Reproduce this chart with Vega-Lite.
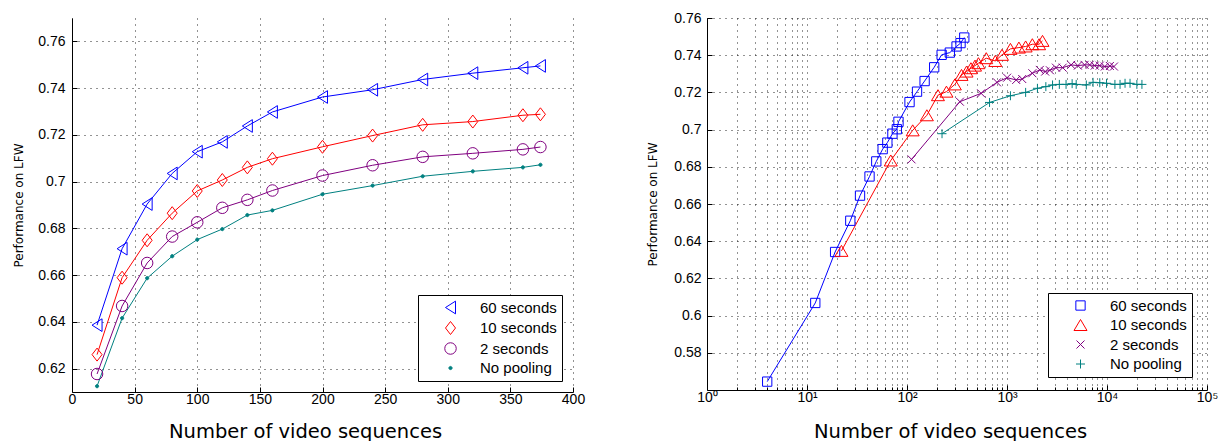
{
  "$schema": "https://vega.github.io/schema/vega-lite/v6.json",
  "padding": {"left": 12, "top": 11, "right": 0, "bottom": 0},
  "background": "white",
  "config": {
    "view": {"stroke": null},
    "axis": {
      "domainColor": "black", "domainWidth": 1, "tickColor": "black", "tickWidth": 1,
      "labelFont": "Liberation Sans", "labelFontSize": 14, "labelColor": "black",
      "titleFont": "DejaVu Sans", "titleFontWeight": "normal", "titleColor": "black",
      "gridColor": "#111111", "gridDash": [1, 5], "gridOpacity": 0.9, "gridWidth": 1,
      "labelOverlap": false, "labelFlush": false
    },
    "legend": {
      "orient": "none", "strokeColor": "black", "fillColor": "white", "padding": 5,
      "labelFont": "Liberation Sans", "labelFontSize": 15, "labelColor": "black",
      "rowPadding": 3.5, "symbolStrokeWidth": 1, "symbolSize": 100, "labelOffset": 22, "symbolOffset": 20, "title": null
    }
  },
  "datasets": {
    "left": [
      {"series": "60 seconds", "n": 20, "perf": 0.6386}, {"series": "60 seconds", "n": 40, "perf": 0.6713},
      {"series": "60 seconds", "n": 60, "perf": 0.6904}, {"series": "60 seconds", "n": 80, "perf": 0.7035},
      {"series": "60 seconds", "n": 100, "perf": 0.7128}, {"series": "60 seconds", "n": 120, "perf": 0.717},
      {"series": "60 seconds", "n": 140, "perf": 0.7238}, {"series": "60 seconds", "n": 160, "perf": 0.7298},
      {"series": "60 seconds", "n": 200, "perf": 0.7362}, {"series": "60 seconds", "n": 240, "perf": 0.7393},
      {"series": "60 seconds", "n": 280, "perf": 0.7437}, {"series": "60 seconds", "n": 320, "perf": 0.7464},
      {"series": "60 seconds", "n": 360, "perf": 0.7487}, {"series": "60 seconds", "n": 374, "perf": 0.7495},
      {"series": "10 seconds", "n": 20, "perf": 0.626}, {"series": "10 seconds", "n": 40, "perf": 0.6589},
      {"series": "10 seconds", "n": 60, "perf": 0.6749}, {"series": "10 seconds", "n": 80, "perf": 0.6865},
      {"series": "10 seconds", "n": 100, "perf": 0.696}, {"series": "10 seconds", "n": 120, "perf": 0.7007},
      {"series": "10 seconds", "n": 140, "perf": 0.7061}, {"series": "10 seconds", "n": 160, "perf": 0.7098},
      {"series": "10 seconds", "n": 200, "perf": 0.7149}, {"series": "10 seconds", "n": 240, "perf": 0.7197},
      {"series": "10 seconds", "n": 280, "perf": 0.7243}, {"series": "10 seconds", "n": 320, "perf": 0.7257},
      {"series": "10 seconds", "n": 360, "perf": 0.7284}, {"series": "10 seconds", "n": 374, "perf": 0.7288},
      {"series": "2 seconds", "n": 20, "perf": 0.6177}, {"series": "2 seconds", "n": 40, "perf": 0.6468},
      {"series": "2 seconds", "n": 60, "perf": 0.6652}, {"series": "2 seconds", "n": 80, "perf": 0.6765},
      {"series": "2 seconds", "n": 100, "perf": 0.6826}, {"series": "2 seconds", "n": 120, "perf": 0.6888},
      {"series": "2 seconds", "n": 140, "perf": 0.6922}, {"series": "2 seconds", "n": 160, "perf": 0.6962},
      {"series": "2 seconds", "n": 200, "perf": 0.7026}, {"series": "2 seconds", "n": 240, "perf": 0.707},
      {"series": "2 seconds", "n": 280, "perf": 0.7106}, {"series": "2 seconds", "n": 320, "perf": 0.7121},
      {"series": "2 seconds", "n": 360, "perf": 0.7138}, {"series": "2 seconds", "n": 374, "perf": 0.7148},
      {"series": "No pooling", "n": 20, "perf": 0.6125}, {"series": "No pooling", "n": 40, "perf": 0.6416},
      {"series": "No pooling", "n": 60, "perf": 0.6587}, {"series": "No pooling", "n": 80, "perf": 0.6681},
      {"series": "No pooling", "n": 100, "perf": 0.6752}, {"series": "No pooling", "n": 120, "perf": 0.6797},
      {"series": "No pooling", "n": 140, "perf": 0.6857}, {"series": "No pooling", "n": 160, "perf": 0.6877},
      {"series": "No pooling", "n": 200, "perf": 0.6946}, {"series": "No pooling", "n": 240, "perf": 0.6983},
      {"series": "No pooling", "n": 280, "perf": 0.7023}, {"series": "No pooling", "n": 320, "perf": 0.7044},
      {"series": "No pooling", "n": 360, "perf": 0.7061}, {"series": "No pooling", "n": 374, "perf": 0.7072}
    ],
    "right": [
      {"series": "60 seconds", "n": 4, "perf": 0.5645}, {"series": "60 seconds", "n": 12.1, "perf": 0.6068},
      {"series": "60 seconds", "n": 19.1, "perf": 0.6342}, {"series": "60 seconds", "n": 27.1, "perf": 0.651},
      {"series": "60 seconds", "n": 33.9, "perf": 0.6645}, {"series": "60 seconds", "n": 42.2, "perf": 0.6748},
      {"series": "60 seconds", "n": 49.3, "perf": 0.6829}, {"series": "60 seconds", "n": 57.1, "perf": 0.6895},
      {"series": "60 seconds", "n": 63.6, "perf": 0.693}, {"series": "60 seconds", "n": 71.5, "perf": 0.6978},
      {"series": "60 seconds", "n": 79.1, "perf": 0.7002}, {"series": "60 seconds", "n": 82.2, "perf": 0.7042},
      {"series": "60 seconds", "n": 106, "perf": 0.7148}, {"series": "60 seconds", "n": 126, "perf": 0.7204},
      {"series": "60 seconds", "n": 150, "perf": 0.7261}, {"series": "60 seconds", "n": 187, "perf": 0.7335},
      {"series": "60 seconds", "n": 222, "perf": 0.7402}, {"series": "60 seconds", "n": 268, "perf": 0.7414},
      {"series": "60 seconds", "n": 313, "perf": 0.7447}, {"series": "60 seconds", "n": 343, "perf": 0.7465},
      {"series": "60 seconds", "n": 374, "perf": 0.7495},
      {"series": "10 seconds", "n": 22.1, "perf": 0.6348}, {"series": "10 seconds", "n": 68.8, "perf": 0.6834},
      {"series": "10 seconds", "n": 114, "perf": 0.6996}, {"series": "10 seconds", "n": 158, "perf": 0.7077},
      {"series": "10 seconds", "n": 204, "perf": 0.7185}, {"series": "10 seconds", "n": 248, "perf": 0.7204},
      {"series": "10 seconds", "n": 301, "perf": 0.7243}, {"series": "10 seconds", "n": 351, "perf": 0.7294},
      {"series": "10 seconds", "n": 394, "perf": 0.7312}, {"series": "10 seconds", "n": 436, "perf": 0.733},
      {"series": "10 seconds", "n": 479, "perf": 0.7344}, {"series": "10 seconds", "n": 518, "perf": 0.7357},
      {"series": "10 seconds", "n": 620, "perf": 0.7384}, {"series": "10 seconds", "n": 764, "perf": 0.7369},
      {"series": "10 seconds", "n": 891, "perf": 0.7402}, {"series": "10 seconds", "n": 1082, "perf": 0.7434},
      {"series": "10 seconds", "n": 1315, "perf": 0.7441}, {"series": "10 seconds", "n": 1536, "perf": 0.7447},
      {"series": "10 seconds", "n": 1793, "perf": 0.7459}, {"series": "10 seconds", "n": 2094, "perf": 0.7459},
      {"series": "10 seconds", "n": 2265, "perf": 0.7477},
      {"series": "2 seconds", "n": 111, "perf": 0.684}, {"series": "2 seconds", "n": 338, "perf": 0.715},
      {"series": "2 seconds", "n": 551, "perf": 0.7195}, {"series": "2 seconds", "n": 794, "perf": 0.7254},
      {"series": "2 seconds", "n": 1002, "perf": 0.7279}, {"series": "2 seconds", "n": 1236, "perf": 0.7267},
      {"series": "2 seconds", "n": 1420, "perf": 0.7272}, {"series": "2 seconds", "n": 1793, "perf": 0.7303},
      {"series": "2 seconds", "n": 2128, "perf": 0.7321}, {"series": "2 seconds", "n": 2409, "perf": 0.7312},
      {"series": "2 seconds", "n": 2686, "perf": 0.7319}, {"series": "2 seconds", "n": 3088, "perf": 0.7333},
      {"series": "2 seconds", "n": 3606, "perf": 0.7333}, {"series": "2 seconds", "n": 4377, "perf": 0.7348},
      {"series": "2 seconds", "n": 5113, "perf": 0.7344}, {"series": "2 seconds", "n": 5969, "perf": 0.7348},
      {"series": "2 seconds", "n": 6711, "perf": 0.7348}, {"series": "2 seconds", "n": 7541, "perf": 0.7344},
      {"series": "2 seconds", "n": 8467, "perf": 0.7344}, {"series": "2 seconds", "n": 9508, "perf": 0.7339},
      {"series": "2 seconds", "n": 10690, "perf": 0.7342}, {"series": "2 seconds", "n": 11740, "perf": 0.7339},
      {"series": "No pooling", "n": 224, "perf": 0.6978}, {"series": "No pooling", "n": 669, "perf": 0.7146},
      {"series": "No pooling", "n": 1082, "perf": 0.7182}, {"series": "No pooling", "n": 1536, "perf": 0.72},
      {"series": "No pooling", "n": 2015, "perf": 0.7222}, {"series": "No pooling", "n": 2446, "perf": 0.7231},
      {"series": "No pooling", "n": 2855, "perf": 0.724}, {"series": "No pooling", "n": 3337, "perf": 0.7243},
      {"series": "No pooling", "n": 3895, "perf": 0.7243}, {"series": "No pooling", "n": 4481, "perf": 0.7247},
      {"series": "No pooling", "n": 4919, "perf": 0.7243}, {"series": "No pooling", "n": 6209, "perf": 0.724},
      {"series": "No pooling", "n": 7250, "perf": 0.7254}, {"series": "No pooling", "n": 8467, "perf": 0.7252},
      {"series": "No pooling", "n": 9892, "perf": 0.7249}, {"series": "No pooling", "n": 12000, "perf": 0.7243},
      {"series": "No pooling", "n": 13500, "perf": 0.7243}, {"series": "No pooling", "n": 15150, "perf": 0.7249},
      {"series": "No pooling", "n": 17000, "perf": 0.7249}, {"series": "No pooling", "n": 19890, "perf": 0.7243},
      {"series": "No pooling", "n": 22350, "perf": 0.7243}
    ]
  },
  "spacing": 134,
  "bounds": "flush",
  "resolve": {
    "scale": {"color": "independent", "shape": "independent", "fill": "independent", "stroke": "independent", "x": "independent", "y": "independent"},
    "legend": {"color": "independent", "shape": "independent", "fill": "independent", "stroke": "independent"}
  },
  "hconcat": [
    {
      "width": 501, "height": 374,
      "data": {"name": "left"},
      "encoding": {
        "x": {"field": "n", "type": "quantitative",
          "scale": {"domain": [0, 400], "nice": false, "zero": false},
          "axis": {"values": [0, 50, 100, 150, 200, 250, 300, 350, 400], "grid": true, "tickSize": -5, "labelPadding": 5,
            "title": "Number of video sequences", "titleFontSize": 19.5, "titlePadding": 16, "titleX": 233}},
        "y": {"field": "perf", "type": "quantitative",
          "scale": {"domain": [0.61, 0.77], "nice": false, "zero": false},
          "axis": {"values": [0.62, 0.64, 0.66, 0.68, 0.7, 0.72, 0.74, 0.76], "format": ".2~f", "grid": true, "tickSize": -5, "labelPadding": 12,
            "title": "Performance on LFW", "titleFontSize": 12, "titlePadding": 12}}
      },
      "layer": [
        {"mark": {"type": "line", "strokeWidth": 1},
          "encoding": {"stroke": {"field": "series", "type": "nominal",
            "scale": {"domain": ["No pooling", "2 seconds", "10 seconds", "60 seconds"], "range": ["#008080", "#800080", "#ff0000", "#0000ff"]},
            "legend": null}}},
        {"mark": {"type": "point", "filled": false, "strokeWidth": 1, "opacity": 1, "size": 100},
          "encoding": {
            "color": {"field": "series", "type": "nominal",
              "scale": {"domain": ["60 seconds", "10 seconds", "2 seconds", "No pooling"], "range": ["#0000ff", "#ff0000", "#800080", "#008080"]},
              "legend": {"legendX": 346, "legendY": 277}},
            "shape": {"field": "series", "type": "nominal",
              "scale": {"domain": ["60 seconds", "10 seconds", "2 seconds", "No pooling"],
                "range": ["M1,-1.27L-1,0L1,1.27Z", "M0,-1.3L1,0L0,1.3L-1,0Z", "M1.15,0A1.15,1.15,0,1,1,-1.15,0A1.15,1.15,0,1,1,1.15,0Z", "M0.32,0A0.32,0.32,0,1,1,-0.32,0A0.32,0.32,0,1,1,0.32,0Z"]},
              "legend": {"legendX": 346, "legendY": 277}},
            "fill": {"field": "series", "type": "nominal",
              "scale": {"domain": ["60 seconds", "10 seconds", "2 seconds", "No pooling"], "range": ["transparent", "transparent", "transparent", "#008080"]},
              "legend": {"legendX": 346, "legendY": 277}}
          }}
      ]
    },
    {
      "width": 500, "height": 372,
      "data": {"name": "right"},
      "encoding": {
        "x": {"field": "n", "type": "quantitative",
          "scale": {"type": "log", "domain": [1, 100000], "nice": false},
          "axis": {"values": [1,2,3,4,5,6,7,8,9,10,20,30,40,50,60,70,80,90,100,200,300,400,500,600,700,800,900,1000,2000,3000,4000,5000,6000,7000,8000,9000,10000,20000,30000,40000,50000,60000,70000,80000,90000,100000],
            "labelExpr": "indexof([1,10,100,1000,10000,100000], datum.value) >= 0 ? '10' + ['⁰','¹','²','³','⁴','⁵'][round(log(datum.value)/LN10)] : ''",
            "grid": true,
            "tickSize": {"condition": {"test": "indexof([1,10,100,1000,10000,100000], datum.value) >= 0", "value": -5}, "value": -3},
            "labelPadding": 5,
            "title": "Number of video sequences", "titleFontSize": 19.5, "titlePadding": 16, "titleX": 243}},
        "y": {"field": "perf", "type": "quantitative",
          "scale": {"domain": [0.56, 0.76], "nice": false, "zero": false},
          "axis": {"values": [0.58, 0.6, 0.62, 0.64, 0.66, 0.68, 0.7, 0.72, 0.74, 0.76], "format": ".2~f", "grid": true, "tickSize": -5, "labelPadding": 11,
            "title": "Performance on LFW", "titleFontSize": 12, "titlePadding": 14}}
      },
      "layer": [
        {"mark": {"type": "line", "strokeWidth": 1},
          "encoding": {"stroke": {"field": "series", "type": "nominal",
            "scale": {"domain": ["No pooling", "2 seconds", "10 seconds", "60 seconds"], "range": ["#008080", "#800080", "#ff0000", "#0000ff"]},
            "legend": null}}},
        {"mark": {"type": "point", "filled": false, "strokeWidth": 1, "opacity": 1, "size": 100},
          "encoding": {
            "color": {"field": "series", "type": "nominal",
              "scale": {"domain": ["60 seconds", "10 seconds", "2 seconds", "No pooling"], "range": ["#0000ff", "#ff0000", "#800080", "#008080"]},
              "legend": {"legendX": 341, "legendY": 275}},
            "shape": {"field": "series", "type": "nominal",
              "scale": {"domain": ["60 seconds", "10 seconds", "2 seconds", "No pooling"],
                "range": ["M-0.93,-0.93H0.93V0.93H-0.93Z", "M0,-1.1L1.3,1.1H-1.3Z", "M-0.8,-0.8L0.8,0.8M-0.8,0.8L0.8,-0.8", "M-0.9,0L0.9,0M0,-0.9L0,0.9"]},
              "legend": {"legendX": 341, "legendY": 275}}
          }}
      ]
    }
  ]
}
